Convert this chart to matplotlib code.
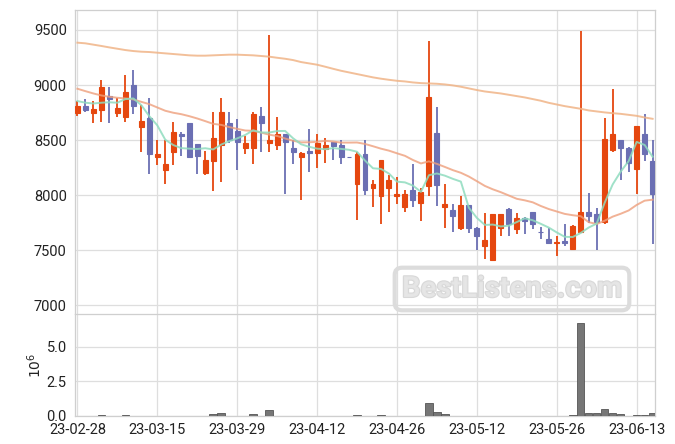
import numpy as np
import matplotlib.pyplot as plt
import matplotlib.patheffects as pe

plt.rcParams['font.family'] = ['Roboto', 'DejaVu Sans']

# daily OHLC (index = trading day)
opens = [8749, 8809, 8749, 8773, 8900, 8749, 8706, 9000, 8621, 8700,
         8349, 8230, 8394, 8555, 8655, 8464, 8203, 8312, 8452, 8655,
         8582, 8433, 8433, 8718, 8470, 8452, 8555, 8430, 8349, 8403,
         8385, 8421, 8482, 8452, 8349, 8103, 8379, 8067, 7994, 8067,
         7994, 7894, 8045, 7930, 8085, 8564, 7894, 7864, 7703, 7909,
         7706, 7542, 7409, 7706, 7879, 7691, 7797, 7845, 7670, 7606,
         7570, 7582, 7512, 7667, 7852, 7827, 7758, 8415, 8500, 8433,
         8242, 8555, 8309]
highs = [8852, 8870, 8858, 9045, 8979, 8879, 9088, 9133, 8818, 8879,
         8500, 8500, 8664, 8573, 8660, 8464, 8400, 8755, 8879, 8755,
         8688, 8536, 8758, 8797, 9451, 8706, 8560, 8500, 8397, 8597,
         8555, 8524, 8485, 8500, 8349, 8394, 8500, 8142, 8324, 8188,
         8167, 8052, 8288, 8070, 9403, 8797, 8100, 7918, 7994, 7912,
         7712, 7839, 7833, 7833, 7882, 7839, 7800, 7852, 7712, 7706,
         7627, 7742, 7730, 9490, 8021, 7888, 8697, 8961, 8503, 8436,
         8630, 8742, 8500]
lows = [8718, 8755, 8652, 8664, 8652, 8712, 8664, 8742, 8394, 8197,
        8273, 8106, 8276, 8355, 8345, 8197, 8185, 8042, 8124, 8470,
        8227, 8373, 8282, 8391, 8391, 8409, 8009, 8288, 7961, 8209,
        8249, 8297, 8318, 8288, 8345, 7773, 8000, 7894, 7743, 7849,
        7918, 7849, 7894, 7767, 7997, 7900, 7706, 7667, 7688, 7658,
        7500, 7424, 7405, 7633, 7627, 7652, 7645, 7694, 7603, 7565,
        7445, 7542, 7510, 7665, 7748, 7506, 7742, 8394, 8142, 8212,
        8015, 8312, 7561]
closes = [8809, 8773, 8782, 8979, 8876, 8791, 8936, 8812, 8676, 8376,
          8373, 8282, 8573, 8536, 8349, 8358, 8318, 8518, 8755, 8506,
          8485, 8470, 8736, 8652, 8500, 8555, 8479, 8397, 8382, 8388,
          8470, 8452, 8448, 8349, 8345, 8379, 8052, 8100, 8318, 8136,
          8015, 8015, 7958, 8033, 8891, 8091, 7918, 7812, 7909, 7703,
          7633, 7597, 7827, 7827, 7736, 7797, 7767, 7736, 7667, 7567,
          7579, 7567, 7724, 7852, 7815, 7755, 8515, 8552, 8433, 8294,
          8627, 8379, 8015]

# moving averages as they appear on the chart
ma5 = [8855, 8840, 8833, 8840, 8844, 8840, 8873, 8879, 8818, 8718,
       8635, 8504, 8456, 8428, 8423, 8420, 8427, 8416, 8460, 8491,
       8516, 8547, 8590, 8570, 8569, 8583, 8584, 8517, 8463, 8440,
       8423, 8418, 8428, 8421, 8413, 8395, 8315, 8245, 8239, 8197,
       8124, 8117, 8088, 8031, 8182, 8198, 8178, 8149, 8124, 7887,
       7795, 7731, 7734, 7717, 7724, 7757, 7791, 7773, 7741, 7707,
       7663, 7623, 7621, 7658, 7707, 7743, 7932, 8098, 8214, 8310,
       8484, 8457, 8350]
ma20 = [8967, 8945, 8924, 8906, 8894, 8885, 8879, 8870, 8848, 8827,
        8797, 8767, 8749, 8736, 8718, 8697, 8673, 8648, 8639, 8619,
        8603, 8588, 8585, 8569, 8550, 8538, 8515, 8495, 8480, 8481,
        8485, 8494, 8488, 8478, 8478, 8479, 8466, 8445, 8423, 8405,
        8381, 8358, 8320, 8289, 8308, 8285, 8257, 8228, 8204, 8170,
        8128, 8085, 8054, 8028, 7998, 7968, 7954, 7936, 7903, 7875,
        7853, 7831, 7819, 7810, 7756, 7739, 7769, 7806, 7832, 7862,
        7912, 7951, 7960]
ma60 = [9385, 9379, 9367, 9355, 9342, 9330, 9318, 9309, 9303, 9300,
        9294, 9288, 9282, 9276, 9270, 9267, 9267, 9270, 9273, 9276,
        9276, 9273, 9270, 9264, 9258, 9248, 9239, 9227, 9209, 9197,
        9185, 9167, 9148, 9130, 9115, 9100, 9085, 9070, 9058, 9048,
        9039, 9033, 9024, 9018, 9015, 9012, 9006, 8997, 8985, 8970,
        8955, 8942, 8933, 8924, 8912, 8900, 8888, 8873, 8858, 8839,
        8824, 8809, 8797, 8785, 8770, 8761, 8752, 8745, 8739, 8730,
        8721, 8706, 8694]

volume = [0, 0, 0, 80000, 0, 0, 80000, 0, 0, 0,
          0, 0, 0, 0, 0, 0, 0, 100000, 200000, 0,
          0, 0, 100000, 0, 420000, 0, 0, 0, 0, 0,
          0, 0, 0, 0, 0, 80000, 0, 0, 80000, 0,
          0, 0, 0, 0, 920000, 270000, 120000, 0, 0, 0,
          0, 0, 0, 0, 0, 0, 0, 0, 0, 0,
          0, 0, 80000, 6730000, 200000, 200000, 490000, 200000, 120000, 0,
          80000, 80000, 180000]

tick_pos = [0, 10, 20, 30, 40, 50, 60, 70]
tick_labels = ['23-02-28', '23-03-15', '23-03-29', '23-04-12',
               '23-04-26', '23-05-12', '23-05-26', '23-06-13']

up_color = '#e5470f'
down_color = '#6b6fb3'
grid_color = '#dedede'

x = np.arange(len(closes))
o = np.array(opens)
c = np.array(closes)
up = c >= o
colors = np.where(up, up_color, down_color)

fig = plt.figure(figsize=(6.75, 4.44), dpi=100)
ax = fig.add_axes([75 / 675, 1 - 313.5 / 444, 580 / 675, 304 / 444])
axv = fig.add_axes([75 / 675, 1 - 415.7 / 444, 580 / 675, 102.2 / 444],
                   sharex=ax)

# candles
ax.vlines(x, lows, highs, colors=colors, linewidth=1.3, zorder=3)
ax.bar(x, c - o, bottom=o, width=0.62, color=colors, edgecolor=colors,
       linewidth=0.8, zorder=4)

# moving averages
ax.plot(x, ma60, color='#f0b487', linewidth=1.4, alpha=0.85, zorder=5)
ax.plot(x, ma20, color='#ee9f7c', linewidth=1.4, alpha=0.8, zorder=5)
ax.plot(x, ma5, color='#8fdcbf', linewidth=1.4, alpha=0.85, zorder=5)

ax.set_ylim(6927, 9686)
ax.set_yticks([7000, 7500, 8000, 8500, 9000, 9500])
ax.set_xlim(-0.3, 72.3)

# volume
axv.bar(x, volume, width=0.95, color='#767676', edgecolor='#555555',
        linewidth=0.6, zorder=3)
axv.set_ylim(0, 7.4e6)
axv.set_yticks([0, 2.5e6, 5e6])
axv.set_yticklabels(['0.0', '2.5', '5.0'])
axv.set_xticks(tick_pos)
axv.set_xticklabels(tick_labels)

for a in (ax, axv):
    a.grid(True, color=grid_color, linewidth=0.9, zorder=0)
    a.set_axisbelow(True)
    a.tick_params(length=0, labelsize=10.5, colors='#222222', pad=6)
    for s in a.spines.values():
        s.set_color('#cfcfcf')
        s.set_linewidth(0.9)
ax.spines['bottom'].set_visible(False)
ax.tick_params(labelbottom=False)
axv.tick_params(axis='x', pad=5)

fig.text(35 / 675, 1 - 365 / 444, '$10^{6}$', rotation=90, fontsize=10,
         color='#222222', ha='center', va='center')

# watermark
wm = fig.text(512 / 675, 1 - 289 / 444, 'BestListens.com', fontsize=21,
              fontweight='bold', color='#e6e6e6', ha='center', va='center',
              zorder=10, alpha=0.9,
              bbox=dict(boxstyle='round,pad=0.25', facecolor='none',
                        edgecolor='#dcdcdc', linewidth=3))
wm.set_path_effects([pe.withStroke(linewidth=1.5, foreground='#d4d4d4')])

fig.savefig('out.png', dpi=100)
